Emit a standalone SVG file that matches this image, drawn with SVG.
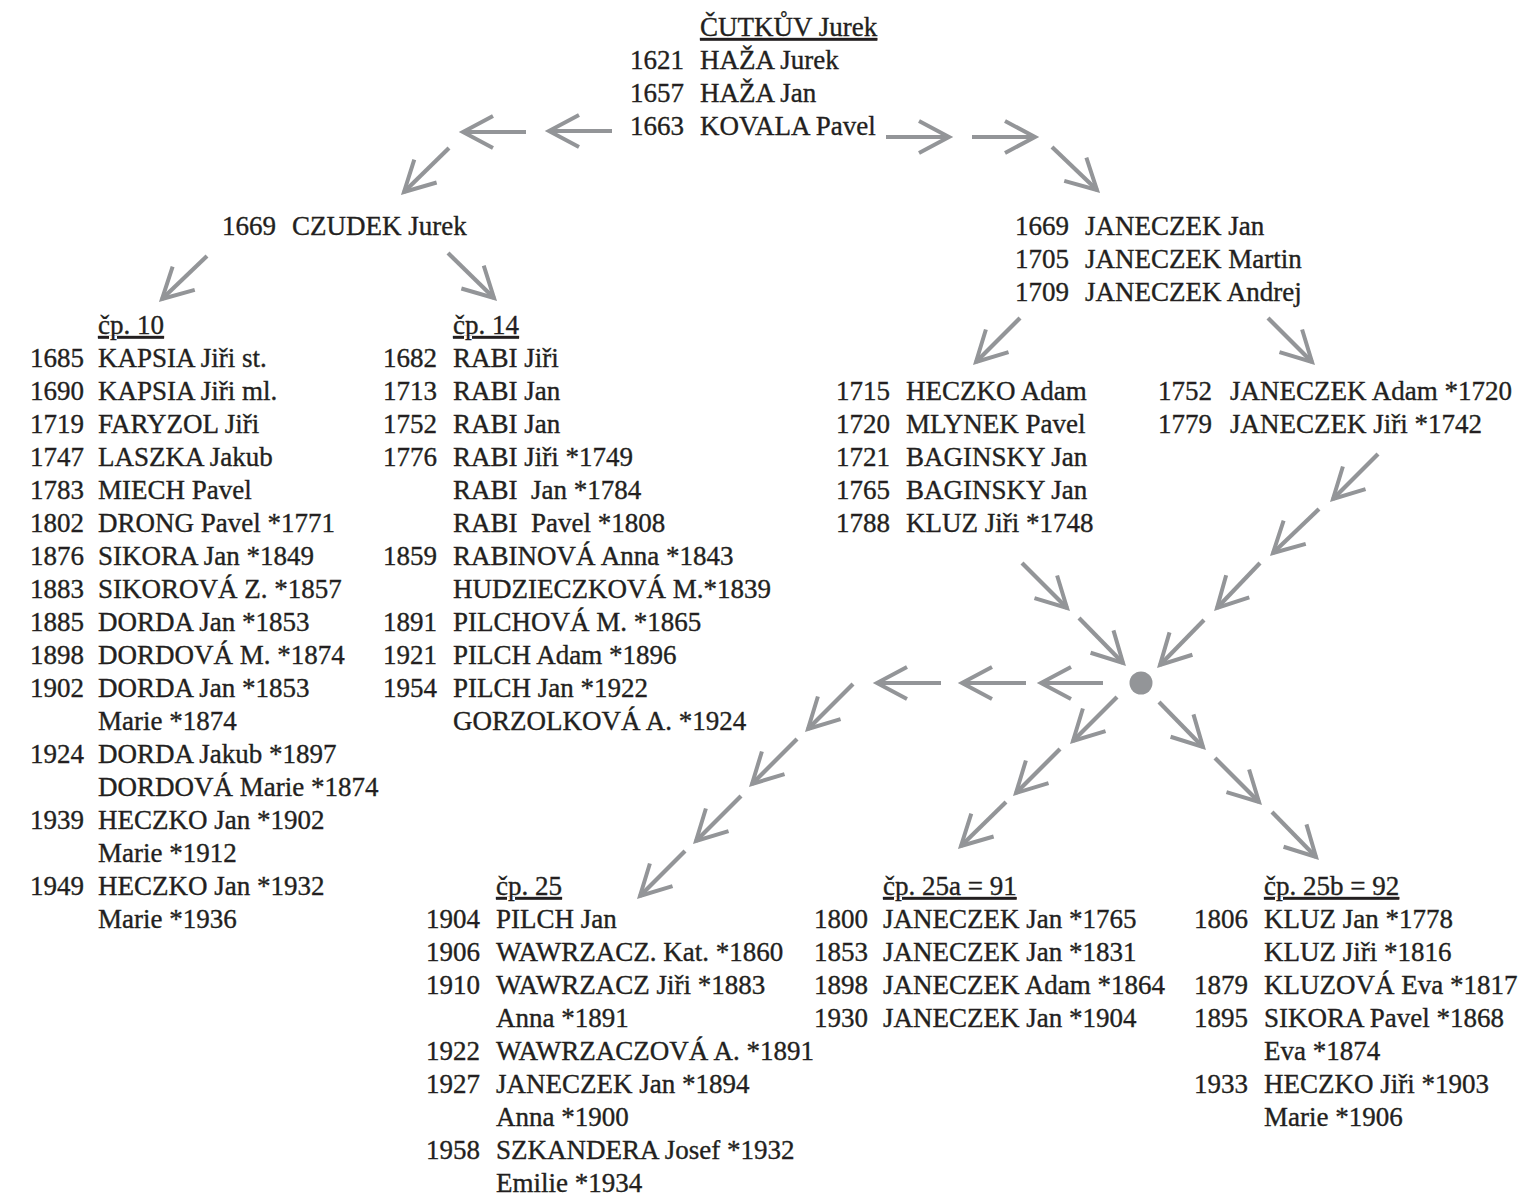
<svg xmlns="http://www.w3.org/2000/svg" width="1538" height="1196" viewBox="0 0 1538 1196">
<style>
  text { font-family: "Liberation Serif", "Times New Roman", serif; font-size: 27px; fill: #231f20; stroke: #231f20; stroke-width: 0.35px; }
  .h { text-decoration: underline; }
  .c { stroke: #939598; stroke-width: 4.2; fill: none; marker-end: url(#ah); }
  .dot { fill: #939598; }
</style>
<defs>
  <marker id="ah" markerUnits="userSpaceOnUse" viewBox="-40 -20 44 40" markerWidth="44" markerHeight="40" refX="0" refY="0" orient="auto" overflow="visible">
    <path d="M-30,-16 L0,0 L-30,16" fill="none" stroke="#939598" stroke-width="4" stroke-linejoin="miter"/>
  </marker>
</defs>
<rect width="1538" height="1196" fill="#ffffff"/>

<g id="connectors">
  <line class="c" x1="612" y1="131" x2="549" y2="131"/>
  <line class="c" x1="526" y1="132" x2="463" y2="132"/>
  <line class="c" x1="449" y1="148" x2="404" y2="192"/>
  <line class="c" x1="886" y1="137" x2="949" y2="137"/>
  <line class="c" x1="972" y1="137" x2="1035" y2="137"/>
  <line class="c" x1="1052" y1="147" x2="1097" y2="190"/>
  <line class="c" x1="207" y1="256" x2="162" y2="299"/>
  <line class="c" x1="448" y1="253" x2="494" y2="298"/>
  <line class="c" x1="1020" y1="318" x2="976" y2="362"/>
  <line class="c" x1="1268" y1="318" x2="1312" y2="362"/>
  <line class="c" x1="1378" y1="454" x2="1333" y2="499"/>
  <line class="c" x1="1319" y1="509" x2="1273" y2="553"/>
  <line class="c" x1="1260" y1="563" x2="1217" y2="608"/>
  <line class="c" x1="1204" y1="620" x2="1160" y2="665"/>
  <line class="c" x1="1022" y1="563" x2="1067" y2="608"/>
  <line class="c" x1="1079" y1="618" x2="1123" y2="663"/>
  <line class="c" x1="1103" y1="683" x2="1041" y2="683"/>
  <line class="c" x1="1026" y1="683" x2="962" y2="683"/>
  <line class="c" x1="941" y1="683" x2="877" y2="683"/>
  <line class="c" x1="853" y1="684" x2="808" y2="729"/>
  <line class="c" x1="797" y1="739" x2="752" y2="784"/>
  <line class="c" x1="741" y1="796" x2="696" y2="841"/>
  <line class="c" x1="685" y1="851" x2="640" y2="896"/>
  <line class="c" x1="1117" y1="697" x2="1073" y2="741"/>
  <line class="c" x1="1060" y1="749" x2="1016" y2="793"/>
  <line class="c" x1="1006" y1="802" x2="961" y2="846"/>
  <line class="c" x1="1159" y1="702" x2="1203" y2="747"/>
  <line class="c" x1="1215" y1="758" x2="1259" y2="802"/>
  <line class="c" x1="1272" y1="812" x2="1316" y2="857"/>
</g>

<g id="node-cutkuv">
  <text class="h" x="700" y="36">ČUTKŮV Jurek</text>
  <text y="69"><tspan x="630">1621</tspan><tspan x="700">HAŽA Jurek</tspan></text>
  <text y="102"><tspan x="630">1657</tspan><tspan x="700">HAŽA Jan</tspan></text>
  <text y="135"><tspan x="630">1663</tspan><tspan x="700">KOVALA Pavel</tspan></text>
</g>

<g id="node-czudek">
  <text y="235"><tspan x="222">1669</tspan><tspan x="292">CZUDEK Jurek</tspan></text>
</g>

<g id="node-janeczek">
  <text y="235"><tspan x="1015">1669</tspan><tspan x="1085">JANECZEK Jan</tspan></text>
  <text y="268"><tspan x="1015">1705</tspan><tspan x="1085">JANECZEK Martin</tspan></text>
  <text y="301"><tspan x="1015">1709</tspan><tspan x="1085">JANECZEK Andrej</tspan></text>
</g>

<g id="node-cp10">
  <text class="h" x="98" y="334">čp. 10</text>
  <text y="367"><tspan x="30">1685</tspan><tspan x="98">KAPSIA Jiři st.</tspan></text>
  <text y="400"><tspan x="30">1690</tspan><tspan x="98">KAPSIA Jiři ml.</tspan></text>
  <text y="433"><tspan x="30">1719</tspan><tspan x="98">FARYZOL Jiři</tspan></text>
  <text y="466"><tspan x="30">1747</tspan><tspan x="98">LASZKA Jakub</tspan></text>
  <text y="499"><tspan x="30">1783</tspan><tspan x="98">MIECH Pavel</tspan></text>
  <text y="532"><tspan x="30">1802</tspan><tspan x="98">DRONG Pavel *1771</tspan></text>
  <text y="565"><tspan x="30">1876</tspan><tspan x="98">SIKORA Jan *1849</tspan></text>
  <text y="598"><tspan x="30">1883</tspan><tspan x="98">SIKOROVÁ Z. *1857</tspan></text>
  <text y="631"><tspan x="30">1885</tspan><tspan x="98">DORDA Jan *1853</tspan></text>
  <text y="664"><tspan x="30">1898</tspan><tspan x="98">DORDOVÁ M. *1874</tspan></text>
  <text y="697"><tspan x="30">1902</tspan><tspan x="98">DORDA Jan *1853</tspan></text>
  <text x="98" y="730">Marie *1874</text>
  <text y="763"><tspan x="30">1924</tspan><tspan x="98">DORDA Jakub *1897</tspan></text>
  <text x="98" y="796">DORDOVÁ Marie *1874</text>
  <text y="829"><tspan x="30">1939</tspan><tspan x="98">HECZKO Jan *1902</tspan></text>
  <text x="98" y="862">Marie *1912</text>
  <text y="895"><tspan x="30">1949</tspan><tspan x="98">HECZKO Jan *1932</tspan></text>
  <text x="98" y="928">Marie *1936</text>
</g>

<g id="node-cp14">
  <text class="h" x="453" y="334">čp. 14</text>
  <text y="367"><tspan x="383">1682</tspan><tspan x="453">RABI Jiři</tspan></text>
  <text y="400"><tspan x="383">1713</tspan><tspan x="453">RABI Jan</tspan></text>
  <text y="433"><tspan x="383">1752</tspan><tspan x="453">RABI Jan</tspan></text>
  <text y="466"><tspan x="383">1776</tspan><tspan x="453">RABI Jiři *1749</tspan></text>
  <text x="453" y="499">RABI&#160; Jan *1784</text>
  <text x="453" y="532">RABI&#160; Pavel *1808</text>
  <text y="565"><tspan x="383">1859</tspan><tspan x="453">RABINOVÁ Anna *1843</tspan></text>
  <text x="453" y="598">HUDZIECZKOVÁ M.*1839</text>
  <text y="631"><tspan x="383">1891</tspan><tspan x="453">PILCHOVÁ M. *1865</tspan></text>
  <text y="664"><tspan x="383">1921</tspan><tspan x="453">PILCH Adam *1896</tspan></text>
  <text y="697"><tspan x="383">1954</tspan><tspan x="453">PILCH Jan *1922</tspan></text>
  <text x="453" y="730">GORZOLKOVÁ A. *1924</text>
</g>

<g id="node-heczko">
  <text y="400"><tspan x="836">1715</tspan><tspan x="906">HECZKO Adam</tspan></text>
  <text y="433"><tspan x="836">1720</tspan><tspan x="906">MLYNEK Pavel</tspan></text>
  <text y="466"><tspan x="836">1721</tspan><tspan x="906">BAGINSKY Jan</tspan></text>
  <text y="499"><tspan x="836">1765</tspan><tspan x="906">BAGINSKY Jan</tspan></text>
  <text y="532"><tspan x="836">1788</tspan><tspan x="906">KLUZ Jiři *1748</tspan></text>
</g>

<g id="node-janeczek-adam">
  <text y="400"><tspan x="1158">1752</tspan><tspan x="1230">JANECZEK Adam *1720</tspan></text>
  <text y="433"><tspan x="1158">1779</tspan><tspan x="1230">JANECZEK Jiři *1742</tspan></text>
</g>

<g id="node-junction">
  <circle class="dot" cx="1141" cy="683" r="11.5"/>
</g>

<g id="node-cp25">
  <text class="h" x="496" y="895">čp. 25</text>
  <text y="928"><tspan x="426">1904</tspan><tspan x="496">PILCH Jan</tspan></text>
  <text y="961"><tspan x="426">1906</tspan><tspan x="496">WAWRZACZ. Kat. *1860</tspan></text>
  <text y="994"><tspan x="426">1910</tspan><tspan x="496">WAWRZACZ Jiři *1883</tspan></text>
  <text x="496" y="1027">Anna *1891</text>
  <text y="1060"><tspan x="426">1922</tspan><tspan x="496">WAWRZACZOVÁ A. *1891</tspan></text>
  <text y="1093"><tspan x="426">1927</tspan><tspan x="496">JANECZEK Jan *1894</tspan></text>
  <text x="496" y="1126">Anna *1900</text>
  <text y="1159"><tspan x="426">1958</tspan><tspan x="496">SZKANDERA Josef *1932</tspan></text>
  <text x="496" y="1192">Emilie *1934</text>
</g>

<g id="node-cp25a">
  <text class="h" x="883" y="895">čp. 25a = 91</text>
  <text y="928"><tspan x="814">1800</tspan><tspan x="883">JANECZEK Jan *1765</tspan></text>
  <text y="961"><tspan x="814">1853</tspan><tspan x="883">JANECZEK Jan *1831</tspan></text>
  <text y="994"><tspan x="814">1898</tspan><tspan x="883">JANECZEK Adam *1864</tspan></text>
  <text y="1027"><tspan x="814">1930</tspan><tspan x="883">JANECZEK Jan *1904</tspan></text>
</g>

<g id="node-cp25b">
  <text class="h" x="1264" y="895">čp. 25b = 92</text>
  <text y="928"><tspan x="1194">1806</tspan><tspan x="1264">KLUZ Jan *1778</tspan></text>
  <text x="1264" y="961">KLUZ Jiři *1816</text>
  <text y="994"><tspan x="1194">1879</tspan><tspan x="1264">KLUZOVÁ Eva *1817</tspan></text>
  <text y="1027"><tspan x="1194">1895</tspan><tspan x="1264">SIKORA Pavel *1868</tspan></text>
  <text x="1264" y="1060">Eva *1874</text>
  <text y="1093"><tspan x="1194">1933</tspan><tspan x="1264">HECZKO Jiři *1903</tspan></text>
  <text x="1264" y="1126">Marie *1906</text>
</g>
</svg>
